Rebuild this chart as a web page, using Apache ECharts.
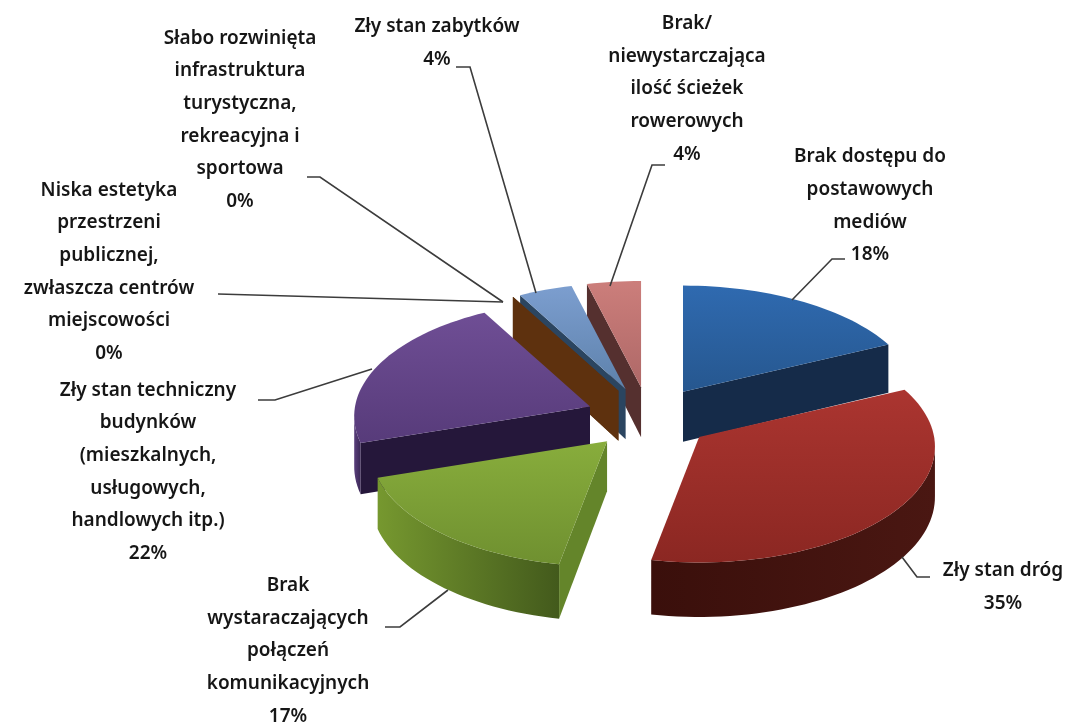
<!DOCTYPE html>
<html style="height: 100%">
    <head>
        <meta charset="utf-8">
    </head>
    <body style="height: 100%; margin: 0; background: #fff">
        <div id="container" style="width: 1078px; height: 724px"></div>

        <script type="text/javascript" src="https://cdn.jsdelivr.net/npm/echarts@6/dist/echarts.min.js"></script>

        <script type="text/javascript">
var names = [
  'Brak dostępu do\npostawowych\nmediów',
  'Zły stan dróg',
  'Brak\nwystaraczających\npołączeń\nkomunikacyjnych',
  'Zły stan techniczny\nbudynków\n(mieszkalnych,\nusługowych,\nhandlowych itp.)',
  'Niska estetyka\nprzestrzeni\npublicznej,\nzwłaszcza centrów\nmiejscowości',
  'Słabo rozwinięta\ninfrastruktura\nturystyczna,\nrekreacyjna i\nsportowa',
  'Zły stan zabytków',
  'Brak/\nniewystarczająca\nilość ścieżek\nrowerowych'
];
var values = [18, 35, 17, 22, 0, 0, 4, 4];

// painter's order, back slices first
var drawOrder = [7, 6, 5, 4, 0, 3, 1, 2];

// [top light, top dark, radial wall, arc wall left, arc wall right]
var colors = [
  ['#2f6ab0', '#26578f', '#152b49', '#152b49', '#152b49'],
  ['#ab3530', '#8b2722', '#3b100c', '#3a0f0b', '#4a1712'],
  ['#88ad3c', '#6f9030', '#64852a', '#76982f', '#435a1c'],
  ['#6f4e95', '#573b7a', '#25173a', '#5a3f7c', '#3a2755'],
  ['#f79646', '#f79646', '#5e310e', '#5e310e', '#5e310e'],
  ['#4bacc6', '#4bacc6', '#5e310e', '#5e310e', '#5e310e'],
  ['#7c9ecf', '#5d81ab', '#2b4560', '#2b4560', '#2b4560'],
  ['#cc7e7b', '#ae6867', '#55302f', '#55302f', '#55302f']
];

// label centre [x, y] and leader polyline
var labelPos = [
  [870, 206], [1003, 587], [288, 651], [148, 472], [109, 272], [240, 120], [437, 43], [687, 89]
];
var leaders = [
  [[845, 259], [832, 259], [792, 300]],
  [[930, 577], [917, 577], [902, 557]],
  [[385, 627], [400, 627], [448, 590]],
  [[258, 400], [275, 400], [372, 369]],
  [[218, 294], [503, 302]],
  [[307, 177], [320, 177], [503, 302]],
  [[456, 67], [470, 67], [536, 293]],
  [[665, 165], [652, 165], [610, 286]]
];

var cx = 649, cy = 418, rx = 235, ry = 115, depth = 50, explode = 0.27, persp = 0.083;
var total = values.reduce(function (a, b) { return a + b; }, 0);
var labelFont = '600 19px "Noto Sans", sans-serif';

function rimPoint(apex, deg) {
  var a = deg * Math.PI / 180;
  var s = 1 / (1 + persp * Math.cos(a));
  return { x: apex[0] + rx * Math.sin(a) * s, y: apex[1] - ry * Math.cos(a) * s, d: depth * s };
}

function renderSlice(params, api) {
  var i = params.dataIndex;
  var value = api.value(0);
  var before = 0;
  for (var k = 0; k < i; k++) before += values[k];
  var start = before / total * 360;
  var end = (before + value) / total * 360;
  var mid = ((start + end) / 2) * Math.PI / 180;
  var apex = [cx + explode * rx * Math.sin(mid), cy - explode * ry * Math.cos(mid)];
  var z = drawOrder.indexOf(i) * 10;
  var c = colors[i];
  var kids = [];

  // rim samples
  var rim = [];
  var steps = Math.max(1, Math.ceil((end - start) / 2));
  for (var n = 0; n <= steps; n++) rim.push(rimPoint(apex, start + (end - start) * n / steps));

  function wall(a, ad, b, bd, fill, zz) {
    kids.push({
      type: 'polygon', z2: zz,
      shape: { points: [[a[0], a[1]], [b[0], b[1]], [b[0], b[1] + bd], [a[0], a[1] + ad]] },
      style: { fill: fill }
    });
  }

  var first = rim[0], last = rim[rim.length - 1];
  if (first.x < apex[0]) wall(apex, depth, [first.x, first.y], first.d, c[2], z + 1);
  if (apex[0] < last.x) wall([last.x, last.y], last.d, apex, depth, c[2], z + 1);

  // curved outer wall, only the part that faces the viewer
  var run = [];
  for (var m = 1; m < rim.length; m++) {
    if (rim[m].x < rim[m - 1].x) {
      if (!run.length) run.push(rim[m - 1]);
      run.push(rim[m]);
    }
  }
  if (run.length) {
    var pts = run.map(function (p) { return [p.x, p.y]; });
    run.slice().reverse().forEach(function (p) { pts.push([p.x, p.y + p.d]); });
    kids.push({
      type: 'polygon', z2: z + 2,
      shape: { points: pts },
      style: {
        fill: new echarts.graphic.LinearGradient(0, 0, 1, 0, [
          { offset: 0, color: c[3] },
          { offset: 1, color: c[4] }
        ])
      }
    });
  }

  // top face
  var top = [apex].concat(rim.map(function (p) { return [p.x, p.y]; }));
  kids.push({
    type: 'polygon', z2: z + 3,
    shape: { points: top },
    style: {
      fill: new echarts.graphic.LinearGradient(0, 0, 0, 1, [
        { offset: 0, color: c[0] },
        { offset: 1, color: c[1] }
      ])
    }
  });

  // leader and label
  kids.push({
    type: 'polyline', z2: 200,
    shape: { points: leaders[i] },
    style: { stroke: '#3c3c3c', lineWidth: 1.6, fill: 'none' }
  });
  kids.push({
    type: 'text', z2: 201,
    x: labelPos[i][0], y: labelPos[i][1],
    style: {
      text: names[i] + '\n' + Math.round(value) + '%',
      align: 'center', verticalAlign: 'middle',
      font: labelFont, lineHeight: 32.7, fill: '#161616'
    }
  });

  return { type: 'group', children: kids };
}

var myChart = echarts.init(document.getElementById('container'));
var option = {
  backgroundColor: '#fff',
  animation: false,
  series: [{
    type: 'custom',
    coordinateSystem: 'none',
    renderItem: renderSlice,
    data: values.map(function (v) { return [v]; })
  }]
};
myChart.setOption(option);
        </script>
    </body>
</html>
